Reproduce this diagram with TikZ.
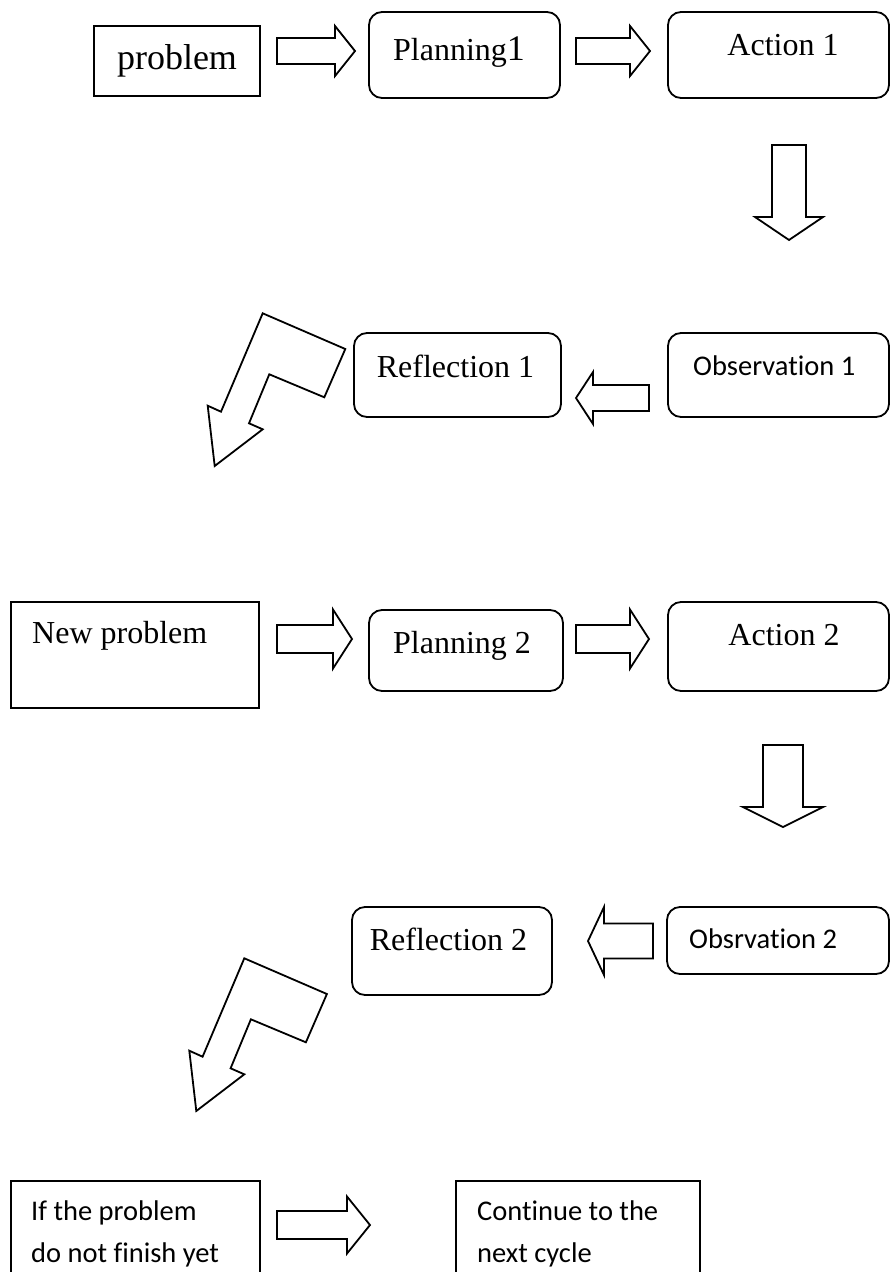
\documentclass[tikz,border=0pt]{standalone}
\usepackage{fontspec}
\setmainfont{Liberation Serif}
\newfontfamily\serfont{Liberation Serif}
\newfontfamily\calfont[Ligatures=NoCommon]{Carlito}
\tikzset{
  frame/.style={draw, line width=1.8pt, inner sep=0pt, outer sep=0pt},
  rbox/.style={frame, rounded corners=13pt},
  blk/.style={draw, line width=1.8pt, line join=miter, fill=white},
  ser/.style={font=\serfont\fontsize{32}{38}\selectfont, inner sep=0pt},
  san/.style={font=\calfont\fontsize{28.5}{34}\selectfont, inner sep=0pt},
}
% right block arrow: body-left x, shoulder x, tip x, centre y, body half height, head half height
\newcommand\blkR[6]{\draw[blk] (#1,#4-#5) -- (#2,#4-#5) -- (#2,#4-#6) -- (#3,#4) -- (#2,#4+#6) -- (#2,#4+#5) -- (#1,#4+#5) -- cycle;}
% left block arrow: tip x, shoulder x, body-right x, centre y, body half, head half
\newcommand\blkL[6]{\draw[blk] (#3,#4-#5) -- (#2,#4-#5) -- (#2,#4-#6) -- (#1,#4) -- (#2,#4+#6) -- (#2,#4+#5) -- (#3,#4+#5) -- cycle;}
% down block arrow: centre x, body half, head half, top y, shoulder y, tip y
\newcommand\blkD[6]{\draw[blk] (#1-#2,#4) -- (#1+#2,#4) -- (#1+#2,#5) -- (#1+#3,#5) -- (#1,#6) -- (#1-#3,#5) -- (#1-#2,#5) -- cycle;}
\newcommand\bentarrow{\draw[blk] (262.7,313.3) -- (345.3,349) -- (324.3,397.3) -- (269.3,374.3) -- (249,423.3) -- (262.7,429.3) -- (214.7,466) -- (207.7,405.7) -- (221,411.7) -- cycle;}
\begin{document}
\begin{tikzpicture}[x=1pt,y=-1pt]
\useasboundingbox (0,0) rectangle (890,1272);
\clip (0,0) rectangle (890,1272);

% ---- row 1
\node[frame, minimum width=166pt, minimum height=70pt] (problem) at (177,61) {};
\node[inner sep=0pt, font=\serfont\fontsize{36}{40}\selectfont] (tproblem) at (177,61) {problem};
\blkR{277}{335}{355}{51}{13}{25}
\node[rbox, minimum width=191pt, minimum height=86pt] (plan1) at (464.5,55) {};
\node[ser, anchor=base] (tplan1) at (459,60) {Planning\fontsize{36}{40}\selectfont 1};
\blkR{576}{630}{650}{51}{13}{25}
\node[rbox, minimum width=221pt, minimum height=86pt] (act1) at (778.5,55) {};
\node[ser, anchor=base] (tact1) at (783,55) {Action 1};
\blkD{789}{17}{34}{145}{217}{240}

% ---- row 2
\node[rbox, minimum width=221pt, minimum height=84pt] (obs1) at (778.5,375) {};
\node[san, anchor=base west] (tobs1) at (693,375) {Observation 1};
\blkL{576}{593}{649}{398}{13}{26}
\node[rbox, minimum width=207pt, minimum height=84pt] (ref1) at (457.5,375) {};
\node[ser, anchor=base] (tref1) at (455.5,377) {Reflection 1};
\bentarrow

% ---- row 3
\node[frame, minimum width=248pt, minimum height=106pt] (newp) at (135,655) {};
\node[ser, anchor=base west] (tnewp) at (32,643) {New problem};
\blkR{277}{333}{352}{639}{14}{29.5}
\node[rbox, minimum width=194pt, minimum height=81pt] (plan2) at (466,650.5) {};
\node[ser, anchor=base] (tplan2) at (462,653) {Planning 2};
\blkR{576}{630}{649}{639}{14}{29.5}
\node[rbox, minimum width=221pt, minimum height=89pt] (act2) at (778.5,646.5) {};
\node[ser, anchor=base] (tact2) at (784,645) {Action 2};
\blkD{783}{20}{40}{745}{807}{827}

% ---- row 4
\node[rbox, minimum width=222pt, minimum height=67pt] (obs2) at (778,940.5) {};
\node[san, anchor=base west] (tobs2) at (689,948) {Obsrvation 2};
\blkL{588}{604}{653}{941}{17.5}{34}
\node[rbox, minimum width=200pt, minimum height=88pt] (ref2) at (452,951) {};
\node[ser, anchor=base] (tref2) at (448.5,950) {Reflection 2};
\begin{scope}[shift={(-18.4,645)}]
\bentarrow
\end{scope}

% ---- row 5
\node[frame, minimum width=249pt, minimum height=120pt] (iff) at (135.5,1241) {};
\node[san, anchor=base west] (tif1) at (31,1220) {If the problem};
\node[san, anchor=base west] (tif2) at (31,1262) {do not finish yet};
\blkR{277}{347}{370}{1225}{14}{28.5}
\node[frame, minimum width=244pt, minimum height=120pt] (cont) at (578,1241) {};
\node[san, anchor=base west] (tcont1) at (477,1220) {Continue to the};
\node[san, anchor=base west] (tcont2) at (477,1262) {next cycle};
\end{tikzpicture}
\end{document}
